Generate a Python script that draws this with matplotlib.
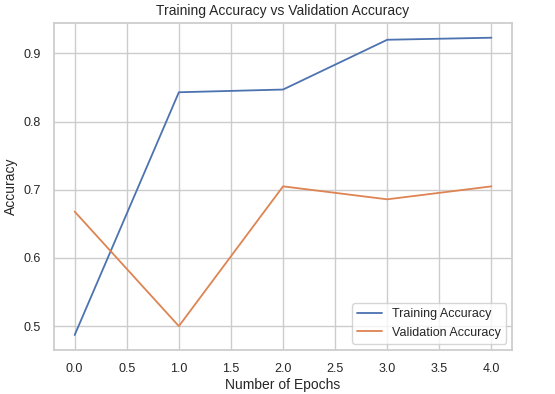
import matplotlib
matplotlib.use("Agg")
import matplotlib.pyplot as plt
import seaborn as sns

# accuracy per epoch
epochs = [0, 1, 2, 3, 4]
train_acc = [0.487, 0.843, 0.847, 0.920, 0.923]
val_acc = [0.668, 0.500, 0.705, 0.686, 0.705]

sns.set_theme(style="whitegrid")
plt.rcParams['font.family'] = ['Liberation Sans', 'DejaVu Sans']

fig = plt.figure(figsize=(5.55, 3.94), dpi=100)
ax = fig.add_axes([0.097, 0.112, 0.826, 0.830])

ax.plot(epochs, train_acc, label="Training Accuracy", linewidth=1.3)
ax.plot(epochs, val_acc, label="Validation Accuracy", linewidth=1.3)

ax.set_title("Training Accuracy vs Validation Accuracy", fontsize=10, color="#262626")
ax.set_xlabel("Number of Epochs", fontsize=10, labelpad=2)
ax.set_ylabel("Accuracy", fontsize=10, labelpad=4)
ax.tick_params(labelsize=9)
ax.set_xticks([0, 0.5, 1, 1.5, 2, 2.5, 3, 3.5, 4])
ax.set_yticks([0.5, 0.6, 0.7, 0.8, 0.9])
ax.legend(loc="lower right", fontsize=9)

fig.savefig("out.png", dpi=100)
